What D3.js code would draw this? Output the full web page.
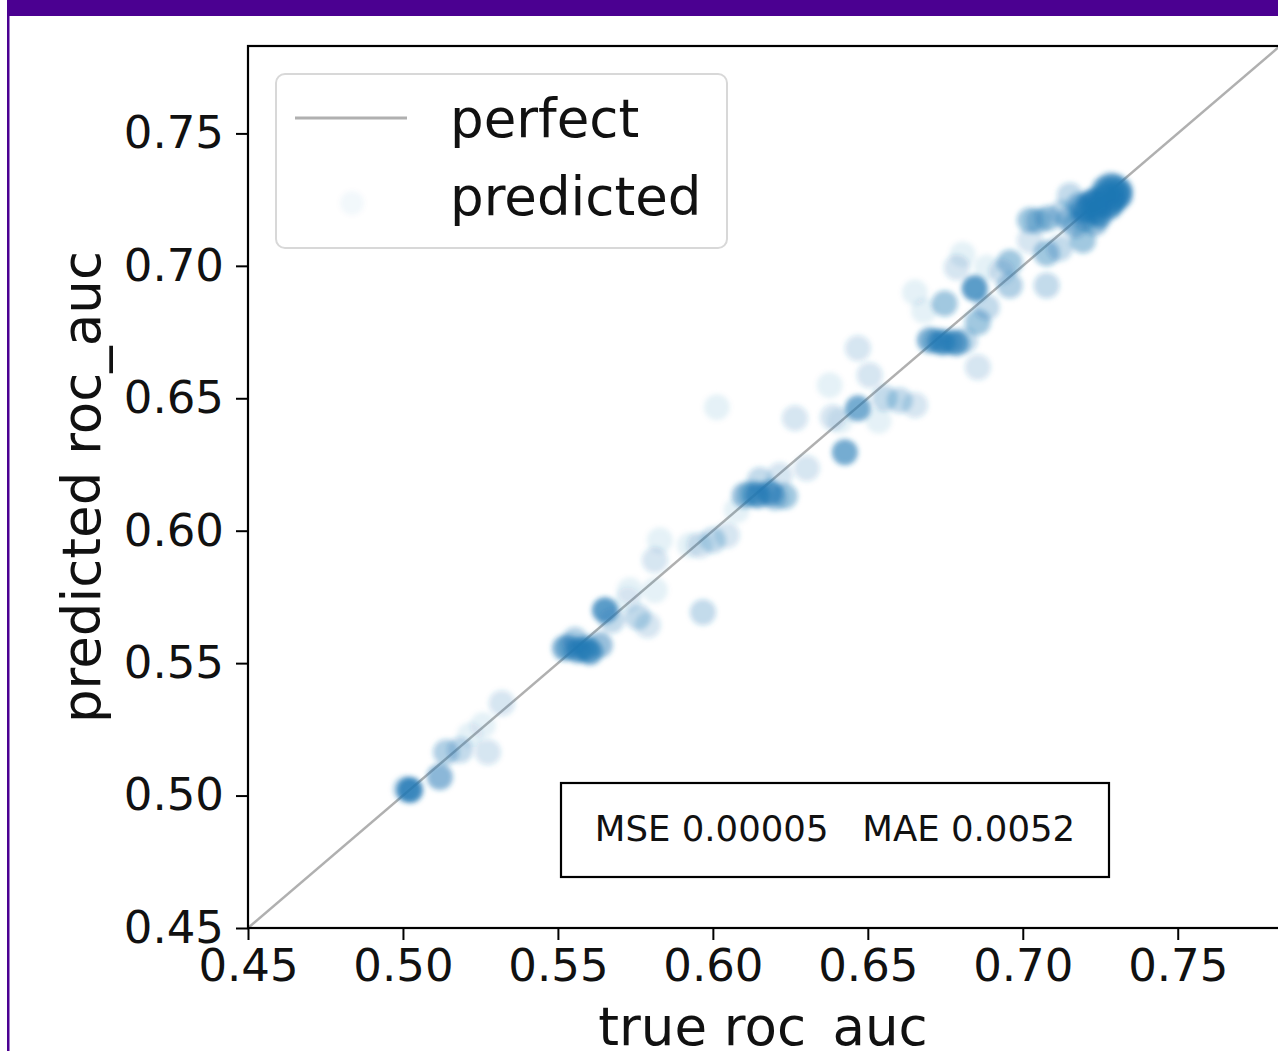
<!DOCTYPE html>
<html>
<head>
<meta charset="utf-8">
<script src="https://cdn.jsdelivr.net/npm/d3@7"></script>
<style>
  html, body { margin: 0; padding: 0; background: #fff; overflow: hidden; }
  svg { display: block; font-family: "DejaVu Sans", sans-serif; }
</style>
</head>
<body>
<svg id="chart" width="1278" height="1051"></svg>
<script>
// ---- data ----
const tickValues = [0.45, 0.50, 0.55, 0.60, 0.65, 0.70, 0.75];
const tickLabels = ["0.45", "0.50", "0.55", "0.60", "0.65", "0.70", "0.75"];
const xLabel = "true roc_auc";
const yLabel = "predicted roc_auc";
const legendLabels = ["perfect", "predicted"];
const statsText = "MSE 0.00005   MAE 0.0052";

// true roc_auc, predicted roc_auc, number of overlapping samples at that spot
const trueRoc = [
  0.5023, 0.5119, 0.5139, 0.5184, 0.5274, 0.5258, 0.5319, 0.5216, 0.5010,
  0.5523, 0.5565, 0.5603, 0.5635, 0.5555, 0.5652, 0.5674, 0.5758, 0.5790, 0.5813, 0.5813, 0.5732, 0.5968, 0.5726, 0.5829, 0.5590, 0.5540,
  0.5958, 0.6000, 0.6045, 0.5926, 0.6013, 0.6103, 0.6145, 0.6184, 0.6232, 0.6152, 0.6216, 0.6303, 0.6265, 0.6077, 0.6125, 0.6200,
  0.6426, 0.6387, 0.6468, 0.6410, 0.6506, 0.6468, 0.6555, 0.6603, 0.6652, 0.6377, 0.6535,
  0.6700, 0.6742, 0.6787, 0.6813, 0.6855, 0.6748, 0.6681, 0.6845, 0.6855, 0.6884, 0.6958, 0.6958, 0.6787, 0.6725, 0.6770,
  0.7077, 0.7077, 0.7119, 0.7194, 0.7023, 0.7081, 0.7168, 0.7200, 0.7232, 0.7265, 0.7297, 0.7313, 0.7248,
  0.7184, 0.7281, 0.7152, 0.7023, 0.6884, 0.6932, 0.6652, 0.6806, 0.7126, 0.7232,
  0.7216, 0.7248, 0.7281, 0.7313, 0.7297, 0.7264, 0.7200, 0.7232, 0.7050, 0.7150
];
const predRoc = [
  0.5021, 0.5070, 0.5164, 0.5172, 0.5164, 0.5266, 0.5349, 0.5228, 0.5025,
  0.5557, 0.5549, 0.5542, 0.5568, 0.5587, 0.5700, 0.5662, 0.5674, 0.5643, 0.5889, 0.5775, 0.5775, 0.5692, 0.5738, 0.5964, 0.5555, 0.5560,
  0.5945, 0.5964, 0.5983, 0.5945, 0.6466, 0.6134, 0.6134, 0.6142, 0.6130, 0.6191, 0.6209, 0.6236, 0.6425, 0.6077, 0.6140, 0.6125,
  0.6296, 0.6428, 0.6462, 0.6415, 0.6587, 0.6689, 0.6500, 0.6492, 0.6474, 0.6549, 0.6415,
  0.6719, 0.6711, 0.6708, 0.6719, 0.6617, 0.6858, 0.6830, 0.6915, 0.6787, 0.6843, 0.6926, 0.7013, 0.6994, 0.6715, 0.6712,
  0.6926, 0.7047, 0.7066, 0.7096, 0.7172, 0.7179, 0.7153, 0.7209, 0.7247, 0.7266, 0.7247, 0.7285, 0.7191,
  0.7228, 0.7304, 0.7266, 0.7096, 0.6994, 0.6977, 0.6900, 0.7043, 0.7200, 0.7162,
  0.7235, 0.7230, 0.7225, 0.7265, 0.7300, 0.7290, 0.7180, 0.7205, 0.7170, 0.7175
];
const counts = [
  16, 7, 4, 3, 2, 1, 2, 1, 4,
  8, 10, 10, 6, 4, 12, 3, 3, 2, 2, 1, 1, 3, 1, 1, 8, 4,
  2, 3, 2, 1, 1, 6, 10, 10, 5, 3, 2, 2, 2, 1, 5, 4,
  9, 2, 9, 1, 2, 2, 3, 3, 2, 1, 1,
  8, 10, 8, 3, 2, 5, 1, 12, 5, 3, 4, 5, 2, 6, 6,
  3, 5, 3, 5, 5, 5, 4, 10, 12, 14, 14, 10, 10,
  6, 6, 3, 2, 1, 2, 1, 1, 3, 6,
  10, 12, 12, 10, 8, 8, 6, 8, 4, 4
];

// ---- layout ----
const svg = d3.select("#chart");
const W = 1278, H = 1051;
const plot = { left: 248, top: 46, bottom: 928, right: 1280 };
const domain = [0.45, 0.783];
const blue = "#1f77b4";
const pointAlpha = 0.1;

const x = d3.scaleLinear().domain(domain).range([plot.left, plot.right]);
const y = d3.scaleLinear().domain(domain).range([plot.bottom, plot.top]);

const defs = svg.append("defs");
defs.append("filter").attr("id", "soft").attr("x", "-20%").attr("y", "-20%").attr("width", "140%").attr("height", "140%")
  .append("feGaussianBlur").attr("stdDeviation", 2.6);
defs.append("clipPath").attr("id", "plotclip").append("rect")
  .attr("x", plot.left).attr("y", plot.top)
  .attr("width", plot.right - plot.left).attr("height", plot.bottom - plot.top);

// page background & frame decoration
svg.append("rect").attr("width", W).attr("height", H).attr("fill", "#fff");
svg.append("rect").attr("x", 7).attr("y", 0).attr("width", W - 7).attr("height", 16).attr("fill", "#4b0091");
svg.append("rect").attr("x", 7).attr("y", 0).attr("width", 2.5).attr("height", H).attr("fill", "#4b0091");

// diagonal "perfect" line
const g = svg.append("g").attr("clip-path", "url(#plotclip)");
g.append("line")
  .attr("x1", x(domain[0])).attr("y1", y(domain[0]))
  .attr("x2", x(domain[1])).attr("y2", y(domain[1]))
  .attr("stroke", "#b0b0b0").attr("stroke-width", 2.5);

// points
const pts = trueRoc.map((t, i) => ({ t, p: predRoc[i], n: counts[i] }));
g.append("g").attr("filter", "url(#soft)")
  .selectAll("circle").data(pts).join("circle")
  .attr("cx", d => x(d.t)).attr("cy", d => y(d.p))
  .attr("r", 13)
  .attr("fill", blue)
  .attr("fill-opacity", d => 1 - Math.pow(1 - pointAlpha, d.n));

// axes
const fmt = (d) => tickLabels[tickValues.indexOf(d)];
const xAxis = svg.append("g").attr("transform", `translate(0,${plot.bottom})`)
  .call(d3.axisBottom(x).tickValues(tickValues).tickFormat(fmt).tickSize(12).tickPadding(9));
const yAxis = svg.append("g").attr("transform", `translate(${plot.left},0)`)
  .call(d3.axisLeft(y).tickValues(tickValues).tickFormat(fmt).tickSize(12).tickPadding(12));
[xAxis, yAxis].forEach(a => {
  a.select(".domain").remove();
  a.selectAll(".tick line").attr("stroke", "#000").attr("stroke-width", 2);
  a.selectAll(".tick text").attr("fill", "#111").style("font-size", "45px").style("font-family", "DejaVu Sans");
});

// frame
svg.append("rect")
  .attr("x", plot.left).attr("y", plot.top)
  .attr("width", plot.right - plot.left).attr("height", plot.bottom - plot.top)
  .attr("fill", "none").attr("stroke", "#000").attr("stroke-width", 2.2);

// axis labels
svg.append("text").attr("x", 763).attr("y", 1045).attr("text-anchor", "middle")
  .style("font-size", "53px").attr("fill", "#111").text(xLabel);
svg.append("text").attr("transform", "translate(100,487) rotate(-90)").attr("text-anchor", "middle")
  .style("font-size", "53px").attr("fill", "#111").text(yLabel);

// legend
const lg = svg.append("g");
lg.append("rect").attr("x", 276).attr("y", 74).attr("width", 451).attr("height", 174).attr("rx", 9)
  .attr("fill", "#fff").attr("fill-opacity", 0.8).attr("stroke", "#d8d8d8").attr("stroke-width", 2);
lg.append("line").attr("x1", 295).attr("x2", 407).attr("y1", 118).attr("y2", 118)
  .attr("stroke", "#b0b0b0").attr("stroke-width", 3);
lg.append("circle").attr("cx", 352).attr("cy", 203).attr("r", 12)
  .attr("fill", blue).attr("fill-opacity", 0.05).attr("filter", "url(#soft)");
lg.selectAll("text.leg").data(legendLabels).join("text").attr("class", "leg")
  .attr("x", 450).attr("y", (d, i) => 137 + i * 78)
  .style("font-size", "53px").attr("fill", "#111").text(d => d);

// stats box
svg.append("rect").attr("x", 561).attr("y", 783).attr("width", 548).attr("height", 94)
  .attr("fill", "#fff").attr("stroke", "#000").attr("stroke-width", 2.2);
svg.append("text").attr("x", 835).attr("y", 841).attr("text-anchor", "middle")
  .attr("xml:space", "preserve").style("white-space", "pre")
  .style("font-size", "35.5px").attr("fill", "#111").text(statsText);
</script>
</body>
</html>
